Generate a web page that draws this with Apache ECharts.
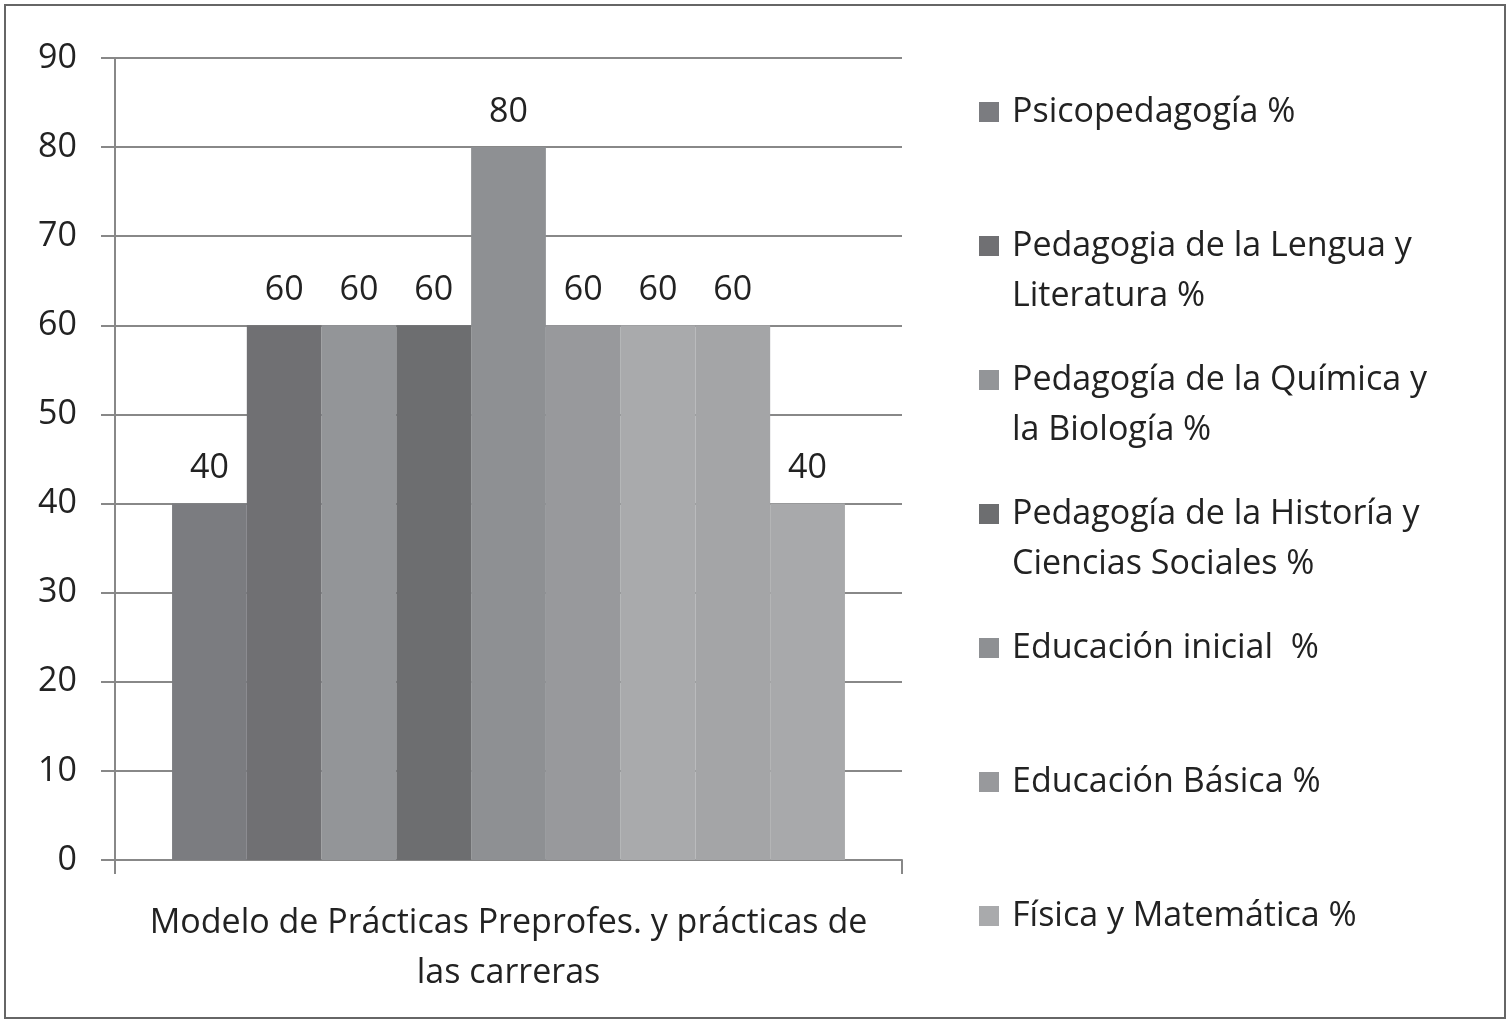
<!DOCTYPE html>
<html><head><meta charset="utf-8">
<script src="https://cdn.jsdelivr.net/npm/echarts@6/dist/echarts.min.js"></script>
<style>html,body{margin:0;background:#fff}#c{width:1511px;height:1024px}</style>
</head><body><div id="c"></div>
<script>
var categories=['Modelo de Prácticas Preprofes. y prácticas de\nlas carreras'];
var names=['Psicopedagogía %','Pedagogia de la Lengua y\nLiteratura %','Pedagogía de la Química y\nla Biología %','Pedagogía de la Historía y\nCiencias Sociales %','Educación inicial  %','Educación Básica %','Física y Matemática %','Serie 8','Serie 9'];
var values=[40,60,60,60,80,60,60,60,40];
var colors=['#7b7c80','#707073','#939598','#6d6e70','#8e9093','#98999c','#a9aaac','#a4a5a7','#a8a9ab'];
var yTicks={min:0,max:90,interval:10};

var chart=echarts.init(document.getElementById('c'));
var F='"Open Sans", "Liberation Sans", sans-serif';
var series=names.map(function(n,i){
  return {name:n,type:'bar',data:[values[i]],barGap:'0%',barCategoryGap:'14.5%',
    itemStyle:{color:colors[i]},
    label:{show:true,position:'top',distance:18,fontSize:34,color:'#222',fontFamily:F}};
});
// legend drawn as graphic so the first line lines up with the marker
var graphics=[{type:'rect',shape:{x:5,y:5,width:1500,height:1013},style:{fill:'none',stroke:'#666',lineWidth:2}}];
for(var i=0;i<7;i++){
  var y=112+i*134;
  graphics.push({type:'rect',shape:{x:979,y:y-10,width:20,height:20},style:{fill:colors[i]}});
  graphics.push({type:'text',x:1012,y:y-25,style:{text:names[i],font:'34px '+F,fill:'#222',lineHeight:50}});
}
chart.setOption({
  animation:false,
  grid:{left:115,top:58,width:787,height:802},
  graphic:graphics,
  xAxis:{type:'category',data:categories,
    axisLine:{lineStyle:{color:'#888',width:2}},
    axisTick:{show:true,length:14,lineStyle:{color:'#888',width:2}},
    axisLabel:{fontSize:34,color:'#222',fontFamily:F,lineHeight:50,margin:38}},
  yAxis:{type:'value',min:yTicks.min,max:yTicks.max,interval:yTicks.interval,
    axisLine:{show:true,lineStyle:{color:'#888',width:2}},
    axisTick:{show:true,length:14,lineStyle:{color:'#888',width:2}},
    splitLine:{lineStyle:{color:'#888',width:2}},
    axisLabel:{fontSize:34,color:'#222',fontFamily:F,margin:38}},
  series:series
});
</script></body></html>
